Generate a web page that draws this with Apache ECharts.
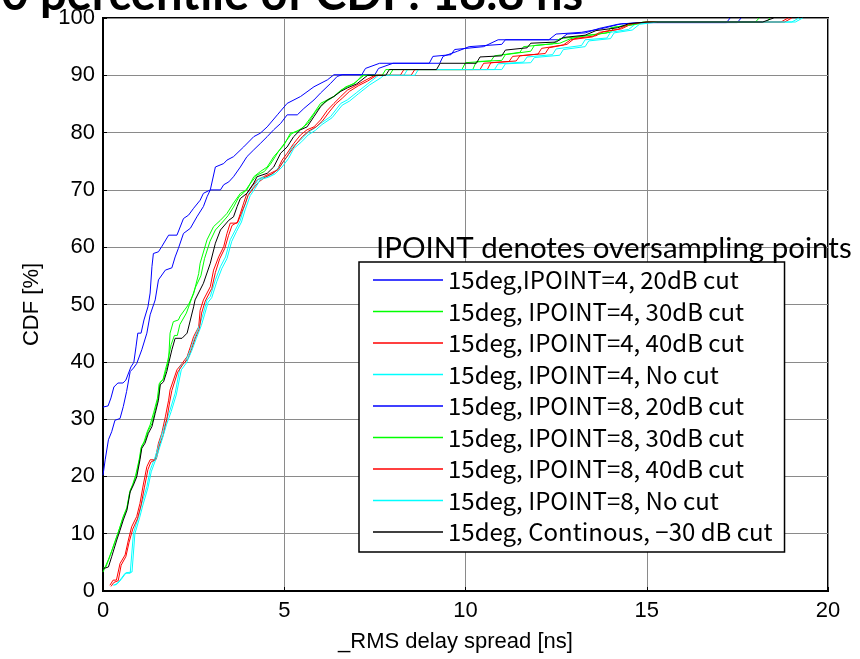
<!DOCTYPE html>
<html><head><meta charset="utf-8">
<script src="https://cdn.jsdelivr.net/npm/echarts@6/dist/echarts.min.js"></script>
<style>html,body{margin:0;padding:0;background:#fff}#c{width:860px;height:659px}</style>
</head><body><div id="c"></div>
<script>
const xTicks = [0, 5, 10, 15, 20];
const yTicks = [0, 10, 20, 30, 40, 50, 60, 70, 80, 90, 100];
const seriesNames = [
  '15deg,IPOINT=4, 20dB cut',
  '15deg, IPOINT=4, 30dB cut',
  '15deg, IPOINT=4, 40dB cut',
  '15deg, IPOINT=4, No cut',
  '15deg, IPOINT=8, 20dB cut',
  '15deg, IPOINT=8, 30dB cut',
  '15deg, IPOINT=8, 40dB cut',
  '15deg, IPOINT=8, No cut',
  '15deg, Continous, \u221230 dB cut'
];
const seriesColors = ['#0000ff','#00ff00','#ff0000','#00ffff','#0000ff','#00ff00','#ff0000','#00ffff','#000000'];

const b4_20 = [[0,32.1],[0.14,32.3],[0.22,33.7],[0.3,35.6],[0.41,36.3],[0.55,36.3],[0.63,36.8],[0.77,39.1],[0.85,39.9],[0.91,42.6],[0.96,45.0],[1.05,45.0],[1.13,47.3],[1.24,49.6],[1.3,52],[1.35,56.6],[1.39,58.9],[1.53,59.2],[1.62,60.1],[1.81,62.1],[2.04,62.1],[2.22,65],[2.36,65.6],[2.5,66.8],[2.68,68.2],[2.77,69.4],[2.96,70],[3.1,74],[3.33,74.6],[3.42,75.2],[3.6,75.8],[3.88,77.5],[4.16,79.3],[4.34,79.9],[4.53,81],[4.81,83.1],[5.08,85.1],[5.45,86.3],[5.82,88],[6.19,89.2],[6.37,90.1],[7.14,90.1],[7.24,91.2],[7.63,92.1],[9.29,92.1],[9.38,93.3],[9.78,94.2],[10.1,95],[11.0,95.4],[11.1,96.2],[12.3,96.2],[12.5,97.2],[13.2,97.5],[13.8,98.2],[14.3,99],[15,99.2],[17.5,99.2],[17.6,100]];
const g4_30 = [[0,3.3],[0.05,3.5],[0.15,5.5],[0.24,7],[0.38,9.5],[0.47,11.2],[0.56,13],[0.66,14.6],[0.75,17.6],[0.84,18.8],[0.93,20.5],[1.02,23.4],[1.07,25.3],[1.16,26.2],[1.25,28],[1.35,29.2],[1.44,31.5],[1.53,34],[1.58,36.5],[1.67,37],[1.76,39],[1.81,40.4],[1.85,45],[1.94,47],[2.08,47.3],[2.13,48],[2.36,50],[2.5,51.9],[2.64,55.4],[2.68,57.2],[2.87,61.3],[3.05,63.6],[3.24,64.7],[3.42,65.9],[3.6,67.7],[3.79,69.4],[3.97,70],[4.16,72.3],[4.34,73.2],[4.53,74],[4.71,75.8],[4.99,77.8],[5.17,79.9],[5.36,80.2],[5.54,81],[5.82,83.4],[6.0,85.1],[6.37,86.3],[6.56,87.4],[6.74,88],[6.9,88.5],[7.2,90],[7.9,90],[8.0,91],[10.2,91],[10.3,92.4],[11.0,92.6],[11.1,93.6],[11.8,94.2],[11.9,95.2],[12.6,95.6],[12.9,96.4],[13.4,97],[14.0,97.5],[14.1,98.4],[14.8,99],[15,99.3],[18.3,99.3],[18.4,100]];
const r4_40 = [[0.19,1.0],[0.28,1.9],[0.37,1.9],[0.47,4.8],[0.61,6.3],[0.7,8.9],[0.79,11.2],[0.93,13],[1.02,15.3],[1.11,18.5],[1.21,21.7],[1.3,22.9],[1.44,22.9],[1.53,25.8],[1.62,27.5],[1.72,30.4],[1.81,33.3],[1.85,35.1],[2.04,38.6],[2.18,39.7],[2.32,40.9],[2.41,42.6],[2.5,44.4],[2.64,46.1],[2.68,49],[2.77,50.8],[2.96,53.1],[3.05,56],[3.19,58.3],[3.33,60.1],[3.42,62.4],[3.51,64.2],[3.7,64.2],[3.79,65.9],[3.88,67.7],[3.97,69.4],[4.11,70.6],[4.25,71.7],[4.43,72.3],[4.62,72.9],[4.81,73.5],[4.94,75.2],[5.08,76.4],[5.26,78.1],[5.45,79.6],[5.63,80.5],[5.82,81],[6.0,82.2],[6.19,83.9],[6.37,85.1],[6.56,86.3],[6.74,87.4],[7.0,88.3],[7.2,89],[7.5,90],[8.2,90],[8.3,91],[10.6,91],[10.7,92.2],[11.4,92.5],[11.5,93.4],[12.2,93.8],[12.3,94.8],[12.8,95.4],[13.0,96.4],[13.6,96.9],[13.8,97.6],[14.3,98.1],[14.6,99],[15.1,99.3],[18.7,99.3],[18.9,100]];
const c4_no = [[0.28,1.0],[0.37,1.2],[0.47,1.9],[0.61,3.1],[0.75,3.1],[0.84,10.1],[0.98,13],[1.07,15.3],[1.21,18.2],[1.3,21.1],[1.44,23.4],[1.58,26.4],[1.72,29.3],[1.85,31.6],[1.99,34.5],[2.13,39.2],[2.27,40],[2.41,42.1],[2.54,44.4],[2.68,46.7],[2.77,48.5],[2.87,50.8],[2.96,51.4],[3.1,54.3],[3.24,56.6],[3.38,58.3],[3.51,61.3],[3.65,63],[3.79,64.7],[3.88,66.8],[4.02,69.4],[4.16,70.6],[4.3,72],[4.53,72.3],[4.71,72.9],[4.9,74.3],[5.08,75.8],[5.22,77.5],[5.45,78.7],[5.63,79.9],[5.82,80.7],[6.0,81.6],[6.28,82.8],[6.56,85.1],[6.74,85.7],[7.0,87],[7.3,88.5],[7.6,90],[8.3,90],[8.4,91],[10.8,91],[10.9,92],[11.6,92.3],[11.7,93.2],[12.4,93.6],[12.5,94.6],[13.2,95.2],[13.3,96.2],[13.9,96.5],[14.0,97.5],[14.5,98],[14.7,99],[15.2,99.3],[19.0,99.3],[19.2,100]];
const b8_20 = [[0,20.2],[0.06,22.9],[0.15,26.4],[0.24,27.8],[0.33,29.8],[0.47,30.1],[0.56,32.2],[0.65,34.8],[0.75,38.3],[0.84,38.9],[0.93,39.7],[1.07,42.1],[1.21,45],[1.3,48.2],[1.44,50.8],[1.53,54.3],[1.72,56],[1.9,56.4],[1.99,58.3],[2.08,59.8],[2.22,62.4],[2.41,63.3],[2.59,65.3],[2.77,67.1],[2.87,68.8],[2.96,70],[3.24,70],[3.33,70.9],[3.47,71.4],[3.6,72.3],[3.79,74],[3.97,75.8],[4.16,77],[4.34,78.1],[4.53,79.3],[4.71,80.5],[4.9,81.6],[5.08,83.1],[5.36,83.1],[5.54,84.2],[5.82,85.7],[6.0,86.9],[6.28,88.6],[6.46,89.8],[6.6,90.1],[7.5,90.1],[7.6,91.2],[8.0,92.1],[9.0,92.1],[9.1,93.3],[9.6,93.6],[9.7,94.5],[10.5,95],[10.9,96.2],[12.6,96.2],[12.8,97.2],[13.3,97.4],[13.7,98.2],[14.2,98.9],[14.8,99.2],[17.2,99.2],[17.3,100]];
const g8_30 = [[0,4],[0.08,4.2],[0.2,6.2],[0.33,8.6],[0.45,10.8],[0.55,12.8],[0.66,14.4],[0.73,17],[0.82,18.6],[0.9,20.2],[1.0,23],[1.05,25],[1.13,26],[1.22,27.8],[1.3,29],[1.4,31.2],[1.5,33.6],[1.55,36.2],[1.65,36.8],[1.72,38.6],[1.78,40],[1.88,43],[1.97,44.6],[2.05,44.6],[2.12,46.5],[2.3,48.5],[2.42,50.6],[2.55,53],[2.7,55],[2.8,58],[2.95,61],[3.1,63],[3.3,64.4],[3.45,65.5],[3.6,67],[3.75,68.8],[3.9,69.6],[4.05,71],[4.25,72.6],[4.45,73.2],[4.62,74.5],[4.85,76.8],[5.05,78.5],[5.2,79.8],[5.45,80.6],[5.65,81.6],[5.85,83.5],[6.05,85],[6.3,86],[6.5,87],[6.7,88],[6.95,88.6],[7.15,90],[7.7,90],[7.8,91],[9.9,91],[10.0,92.2],[10.7,92.5],[10.8,93.4],[11.5,94],[11.6,95],[12.4,95.5],[12.6,96.4],[13.2,96.8],[13.9,97.4],[14.0,98.3],[14.6,98.8],[14.9,99.3],[18.0,99.3],[18.1,100]];
const r8_40 = [[0.22,0.8],[0.3,1.5],[0.42,1.8],[0.5,4.5],[0.63,6.0],[0.72,8.5],[0.82,10.8],[0.95,12.6],[1.05,15],[1.14,18],[1.24,21.2],[1.32,22.5],[1.47,23],[1.56,25.5],[1.66,27.2],[1.76,30],[1.84,33],[1.9,35],[2.06,38.2],[2.2,39.5],[2.35,40.6],[2.45,42.3],[2.54,44],[2.66,45.8],[2.72,48.5],[2.82,50.6],[3.0,52.8],[3.1,55.6],[3.22,58],[3.36,59.8],[3.46,62],[3.56,63.8],[3.72,64.4],[3.82,66],[3.92,67.5],[4.0,69],[4.15,70.3],[4.3,71.4],[4.47,72.2],[4.66,72.8],[4.84,73.6],[4.98,75],[5.12,76.2],[5.3,77.8],[5.5,79.3],[5.68,80.3],[5.88,81],[6.05,82],[6.24,83.6],[6.42,85],[6.6,86],[6.8,87.2],[7.05,88.2],[7.3,89],[7.55,90],[8.5,90],[8.6,91],[10.4,91],[10.5,92.1],[11.2,92.4],[11.3,93.3],[12.0,93.7],[12.1,94.7],[12.7,95.3],[12.9,96.2],[13.5,96.7],[13.7,97.5],[14.2,98],[14.5,98.9],[15.0,99.3],[18.8,99.3],[19.0,100]];
const c8_no = [[0.32,1.0],[0.4,1.3],[0.5,2.0],[0.64,3.2],[0.8,3.3],[0.88,10],[1.01,12.8],[1.1,15],[1.24,18],[1.33,20.8],[1.47,23.2],[1.61,26],[1.75,29],[1.88,31.3],[2.02,34.2],[2.16,38.6],[2.3,39.8],[2.44,41.8],[2.57,44],[2.71,46.3],[2.8,48.2],[2.9,50.4],[3.0,51.2],[3.14,54],[3.28,56.3],[3.42,58],[3.55,61],[3.68,62.7],[3.82,64.4],[3.92,66.5],[4.06,69],[4.2,70.3],[4.34,71.8],[4.56,72.2],[4.75,72.8],[4.94,74],[5.12,75.5],[5.26,77.2],[5.48,78.4],[5.66,79.6],[5.86,80.4],[6.04,81.4],[6.32,82.6],[6.6,84.8],[6.8,85.5],[7.05,86.8],[7.35,88.3],[7.65,89.5],[7.75,90],[8.6,90],[8.7,91],[11.0,91],[11.1,92],[11.8,92.2],[11.9,93.1],[12.6,93.5],[12.7,94.5],[13.3,95],[13.4,96],[14.0,96.4],[14.1,97.4],[14.6,97.9],[14.8,98.9],[15.3,99.3],[19.1,99.3],[19.3,100]];
const k_cont = [[0,4],[0.06,4],[0.15,4.2],[0.24,6],[0.38,8.9],[0.47,10.6],[0.56,12.4],[0.66,14.1],[0.75,17.3],[0.84,18.5],[0.93,19.9],[1.02,22.9],[1.07,24.9],[1.16,25.8],[1.25,27.5],[1.35,28.7],[1.44,31],[1.53,33.3],[1.58,36],[1.67,36.5],[1.76,38.3],[1.81,39.7],[1.9,42.1],[1.99,44.1],[2.18,44.1],[2.32,45],[2.41,47.3],[2.5,49.6],[2.54,50.8],[2.77,53.7],[2.96,57.2],[3.1,60.7],[3.24,63],[3.47,64.7],[3.6,65.3],[3.7,67.1],[3.79,68.5],[3.97,69.4],[4.16,71.2],[4.25,72.3],[4.53,72.9],[4.71,74],[4.9,76.4],[5.08,77.5],[5.26,79.3],[5.45,80.5],[5.63,81],[5.82,82.8],[6.0,84.5],[6.19,85.7],[6.37,86.3],[6.56,87.2],[6.74,87.8],[7.0,88.5],[7.3,90],[7.8,90],[7.9,91],[9.2,91],[9.3,92.1],[10.3,92.1],[10.4,93.2],[11.0,93.4],[11.1,94.4],[11.7,94.8],[11.8,95.6],[12.5,95.8],[12.7,96.6],[13.3,97],[13.6,97.8],[14.2,98.3],[14.5,99],[15,99.3],[18.2,99.3],[18.5,100]];

const seriesData = [b4_20, g4_30, r4_40, c4_no, b8_20, g8_30, r8_40, c8_no, k_cont];

const chart = echarts.init(document.getElementById('c'), null, {renderer: 'canvas'});
const axisFont = 'Liberation Sans, Arial, sans-serif';
chart.setOption({
  animation: false,
  backgroundColor: '#ffffff',
  grid: {left: 103, right: 32, top: 18, bottom: 68, show: true, borderColor: '#000', borderWidth: 2, backgroundColor: 'transparent'},
  xAxis: {
    type: 'value', min: xTicks[0], max: xTicks[xTicks.length-1], interval: 5,
    name: '_RMS delay spread [ns]', nameLocation: 'middle', nameGap: 40,
    nameTextStyle: {fontSize: 22, color: '#000', fontFamily: axisFont, padding: [0, 20, 0, 0]},
    axisLine: {show: true, lineStyle: {color: '#000', width: 2}},
    axisTick: {show: true, inside: true, length: 4, lineStyle: {color: '#000'}},
    axisLabel: {fontSize: 22, color: '#000', fontFamily: axisFont, margin: 9},
    splitLine: {show: true, lineStyle: {color: '#8a8a8a', width: 1}}
  },
  yAxis: {
    type: 'value', min: yTicks[0], max: yTicks[yTicks.length-1], interval: 10,
    name: 'CDF [%]', nameLocation: 'middle', nameGap: 60,
    nameTextStyle: {fontSize: 22, color: '#000', fontFamily: axisFont},
    axisLine: {show: true, lineStyle: {color: '#000', width: 2}},
    axisTick: {show: true, inside: true, length: 4, lineStyle: {color: '#000'}},
    axisLabel: {fontSize: 22, color: '#000', fontFamily: axisFont, margin: 8},
    splitLine: {show: true, lineStyle: {color: '#8a8a8a', width: 1}}
  },
  legend: {
    orient: 'vertical', left: 359, top: 262,
    padding: [6, 12, 8, 14], itemGap: 7.5, itemWidth: 70, itemHeight: 1.6,
    icon: 'rect',
    backgroundColor: '#fff', borderColor: '#000', borderWidth: 1.5, borderRadius: 0,
    textStyle: {fontSize: 24, lineHeight: 24, color: '#000', fontFamily: 'Noto Sans CJK JP, sans-serif'},
    data: seriesNames.map((n, i) => ({name: n, itemStyle: {color: seriesColors[i], borderWidth: 0}}))
  },
  series: seriesNames.map((n, i) => ({
    name: n, type: 'line', data: seriesData[i], symbol: 'none', showSymbol: false,
    lineStyle: {color: seriesColors[i], width: 1}, itemStyle: {color: seriesColors[i]},
    z: 2 + i, clip: true
  })),
  graphic: [
    {type: 'text', left: -26, top: -29, z: 100, style: {text: '90 percentile of CDF: 18.8 ns', font: 'bold 47px Lato, sans-serif', fill: '#000'}},
    {type: 'text', left: 376, top: 233, z: 100, style: {text: 'IPOINT denotes oversampling points', font: '29.5px Lato, sans-serif', fill: '#000'}}
  ]
});
</script></body></html>
